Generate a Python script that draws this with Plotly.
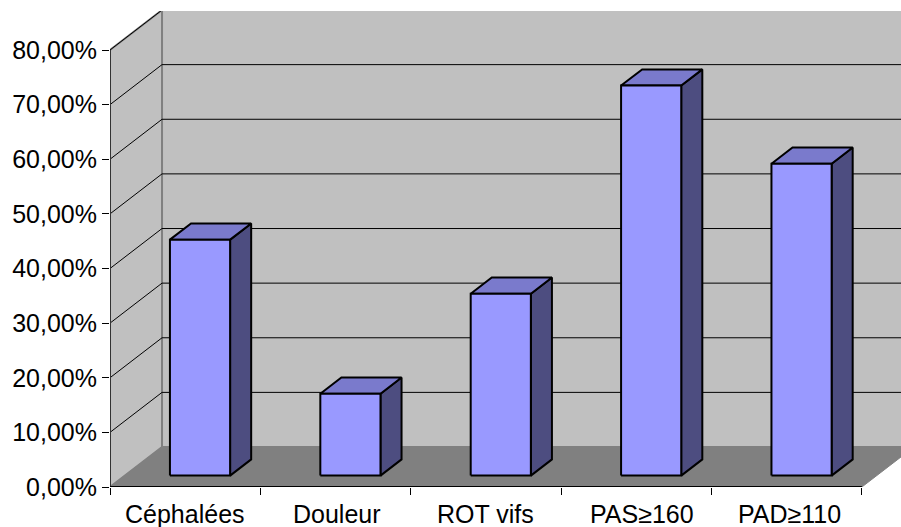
import plotly.graph_objects as go

categories = ["Céphalées", "Douleur", "ROT vifs", "PAS≥160", "PAD≥110"]
values = [43.2, 15.0, 33.3, 71.4, 57.1]
y_ticks = [0, 10, 20, 30, 40, 50, 60, 70, 80]
y_labels = ["0,00%", "10,00%", "20,00%", "30,00%", "40,00%", "50,00%", "60,00%", "70,00%", "80,00%"]
label_nudge = [0, 1, 0, 6, 3]  # px, the ≥ labels sit right of centre in the original

# fake 3D: depth is a shift in data units
DX = 0.346
DY = 7.32
Y_MAX = 80
BAR_W = 0.40
D0, D1 = 0.285, 0.69  # bar position inside the depth

fig = go.Figure()


def poly(xs, ys, fill=None, line="black", width=1):
    fig.add_trace(go.Scatter(
        x=xs, y=ys, mode="lines", fill="toself" if fill else None,
        fillcolor=fill, line=dict(color=line, width=width),
        hoverinfo="skip", showlegend=False,
    ))


n = len(categories)

# walls and floor
poly([0, DX, DX, 0, 0], [0, DY, Y_MAX + DY, Y_MAX, 0], "#c0c0c0", "#808080", 2)
poly([DX, n + DX, n + DX, DX, DX], [DY, DY, Y_MAX + DY, Y_MAX + DY, DY], "#c0c0c0", "#808080", 2)
poly([0, n, n + DX, DX, 0], [0, 0, DY, DY, 0], "#808080", "#808080", 1)

# gridlines
for t in y_ticks[1:]:
    poly([0, DX, n + DX], [t, t + DY, t + DY], None, "black", 1)

# bars
for i, v in enumerate(values):
    x0 = i + 0.5 - BAR_W / 2 + DX * D0
    x1 = x0 + BAR_W
    y0 = DY * D0
    ox = DX * (D1 - D0)
    oy = DY * (D1 - D0)
    poly([x1, x1 + ox, x1 + ox, x1, x1], [y0, y0 + oy, y0 + v + oy, y0 + v, y0], "#4d4d80", "black", 2)
    poly([x0, x0 + ox, x1 + ox, x1, x0], [y0 + v, y0 + v + oy, y0 + v + oy, y0 + v, y0 + v], "#7a7acc", "black", 2)
    poly([x0, x1, x1, x0, x0], [y0, y0, y0 + v, y0 + v, y0], "#9999ff", "black", 2)

# category labels, placed on the axis with annotations because ticks sit between them
for i, c in enumerate(categories):
    fig.add_annotation(x=i + 0.5, y=0, text=c, showarrow=False, yshift=-11, yanchor="top",
                       xshift=label_nudge[i],
                       font=dict(family="Liberation Sans", size=25, color="black"))

# the axis spines only run as far as the front plane
poly([0, 0], [0, Y_MAX], None, "#333333", 2)
poly([0, n], [0, 0], None, "black", 2)

fig.update_layout(
    width=901, height=527,
    margin=dict(l=110, r=0, t=11, b=40, autoexpand=False),
    paper_bgcolor="white", plot_bgcolor="white",
    font=dict(family="Liberation Sans", size=25, color="black"),
    showlegend=False,
    xaxis=dict(range=[0, 5.26], tickvals=list(range(n + 1)), ticktext=[""] * (n + 1),
               ticks="outside", ticklen=7, tickwidth=1, tickcolor="black",
               showgrid=False, zeroline=False, showline=False),
    yaxis=dict(range=[0, 87.14], tickvals=y_ticks, ticktext=y_labels,
               ticks="outside", ticklen=7, tickwidth=1, tickcolor="black",
               showgrid=False, zeroline=False, showline=False),
)
fig.write_html("out.html", config={"displayModeBar": False},
               post_script="document.body.style.margin='0';")
